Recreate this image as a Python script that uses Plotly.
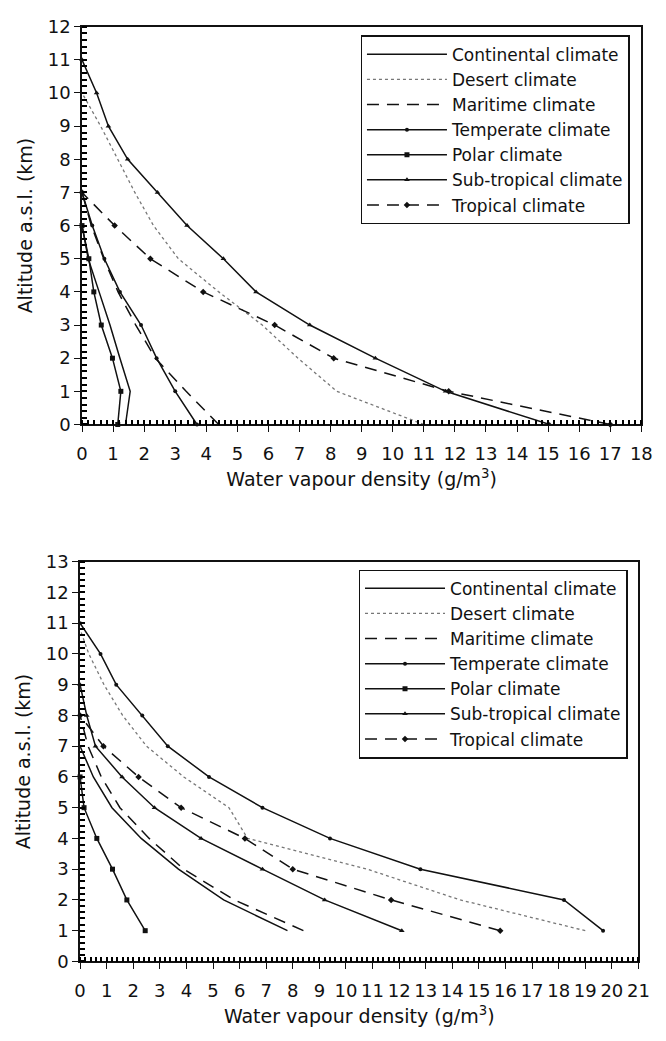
import plotly.graph_objects as go

# ---------------- data: top chart ----------------
top_cont_alt = [0, 1, 2, 3, 4, 5, 6]
top_cont_rho = [1.4, 1.55, 1.22, 0.9, 0.55, 0.2, 0.0]
top_des_alt = [0, 1, 2, 3, 4, 5, 6, 7, 8, 9, 10]
top_des_rho = [11.0, 8.2, 6.95, 5.8, 4.4, 3.1, 2.3, 1.7, 1.15, 0.6, 0.0]
top_mar_alt = [0, 1, 2, 3, 4, 5, 6, 7]
top_mar_rho = [4.4, 3.35, 2.36, 1.73, 1.16, 0.7, 0.3, 0.0]
top_tem_alt = [0, 1, 2, 3, 4, 5, 6, 7]
top_tem_rho = [3.7, 3.0, 2.4, 1.9, 1.22, 0.72, 0.33, 0.0]
top_pol_alt = [0, 1, 2, 3, 4, 5, 6]
top_pol_rho = [1.15, 1.25, 0.98, 0.62, 0.38, 0.22, 0.0]
top_sub_alt = [0, 1, 2, 3, 4, 5, 6, 7, 8, 9, 10, 11]
top_sub_rho = [15.05, 11.7, 9.44, 7.33, 5.6, 4.55, 3.38, 2.43, 1.47, 0.85, 0.47, 0.0]
top_tro_alt = [0, 1, 2, 3, 4, 5, 6, 7]
top_tro_rho = [17.0, 11.8, 8.1, 6.2, 3.9, 2.2, 1.05, 0.0]

# ---------------- data: bottom chart ----------------
bot_cont_alt = [1, 2, 3, 4, 5, 6, 7]
bot_cont_rho = [7.8, 5.4, 3.7, 2.3, 1.2, 0.5, 0.0]
bot_des_alt = [1, 2, 3, 4, 5, 6, 7, 8, 9, 10, 10.8]
bot_des_rho = [19.0, 14.3, 10.8, 6.3, 5.6, 3.9, 2.5, 1.6, 0.9, 0.33, 0.0]
bot_mar_alt = [1, 2, 3, 4, 5, 6, 7, 8]
bot_mar_rho = [8.4, 5.8, 3.9, 2.6, 1.5, 0.8, 0.3, 0.0]
bot_tem_alt = [1, 2, 3, 4, 5, 6, 7, 8, 9, 10, 11]
bot_tem_rho = [19.67, 18.2, 12.8, 9.4, 6.86, 4.85, 3.3, 2.34, 1.36, 0.77, 0.0]
bot_pol_alt = [1, 2, 3, 4, 5, 6]
bot_pol_rho = [2.45, 1.76, 1.22, 0.63, 0.15, 0.0]
bot_sub_alt = [1, 2, 3, 4, 5, 6, 7, 8, 9]
bot_sub_rho = [12.1, 9.2, 6.86, 4.55, 2.8, 1.58, 0.58, 0.25, 0.0]
bot_tro_alt = [1, 2, 3, 4, 5, 6, 7, 8]
bot_tro_rho = [15.8, 11.7, 8.0, 6.2, 3.8, 2.2, 0.88, 0.0]

# axis limits (major tick every 1, minor tick every 0.2)
top_x_max, top_y_max = 18, 12
bot_x_max, bot_y_max = 21, 13

names = ["Continental climate", "Desert climate", "Maritime climate",
         "Temperate climate", "Polar climate", "Sub-tropical climate",
         "Tropical climate"]

top_series = [(top_cont_rho, top_cont_alt), (top_des_rho, top_des_alt),
              (top_mar_rho, top_mar_alt), (top_tem_rho, top_tem_alt),
              (top_pol_rho, top_pol_alt), (top_sub_rho, top_sub_alt),
              (top_tro_rho, top_tro_alt)]
bot_series = [(bot_cont_rho, bot_cont_alt), (bot_des_rho, bot_des_alt),
              (bot_mar_rho, bot_mar_alt), (bot_tem_rho, bot_tem_alt),
              (bot_pol_rho, bot_pol_alt), (bot_sub_rho, bot_sub_alt),
              (bot_tro_rho, bot_tro_alt)]

INK = "#111"
styles = [
    dict(mode="lines", line=dict(color=INK, width=1.5, dash="solid")),
    dict(mode="lines", line=dict(color="#777", width=1.3, dash="dot")),
    dict(mode="lines", line=dict(color=INK, width=1.5, dash="12px,8px")),
    dict(mode="lines+markers", line=dict(color=INK, width=1.5),
         marker=dict(symbol="circle", size=4, color=INK)),
    dict(mode="lines+markers", line=dict(color=INK, width=1.5),
         marker=dict(symbol="square", size=5, color=INK)),
    dict(mode="lines+markers", line=dict(color=INK, width=1.5),
         marker=dict(symbol="triangle-up", size=5, color=INK)),
    dict(mode="lines+markers", line=dict(color=INK, width=1.5, dash="12px,8px"),
         marker=dict(symbol="diamond", size=5, color=INK)),
]

FONT = "DejaVu Sans, Liberation Sans, sans-serif"

fig = go.Figure()
for name, (xs, ys), st in zip(names, top_series, styles):
    fig.add_trace(go.Scatter(x=xs, y=ys, name=name, xaxis="x", yaxis="y",
                             legend="legend", cliponaxis=False, **st))
for name, (xs, ys), st in zip(names, bot_series, styles):
    fig.add_trace(go.Scatter(x=xs, y=ys, name=name, xaxis="x2", yaxis="y2",
                             legend="legend2", cliponaxis=False, **st))

H = 1041.0
W = 666.0
TITLE_FONT = dict(family=FONT, size=19, color=INK)


def axis_common(vmax):
    return dict(showgrid=False, zeroline=False, showline=True, linecolor=INK,
                linewidth=1.5, mirror=True, ticks="outside", ticklen=6,
                tickwidth=1.4, tickcolor=INK, range=[0, vmax], dtick=1,
                layer="above traces",
                tickfont=dict(family=FONT, size=18, color=INK),
                minor=dict(dtick=0.2, ticks="inside", ticklen=5,
                           tickwidth=1.5, tickcolor="black"))


xa = axis_common(top_x_max)
xa.update(domain=[78 / W, 652 / W], anchor="y", ticklabelstandoff=6,
          title=dict(text="Water vapour density (g/m<sup>3</sup>)",
                     font=TITLE_FONT, standoff=10))
ya = axis_common(top_y_max)
ya.update(domain=[(H - 422) / H, (H - 16) / H], anchor="x", ticklabelstandoff=0,
          title=dict(text="Altitude a.s.l. (km)", font=TITLE_FONT, standoff=10))
xa2 = axis_common(bot_x_max)
xa2.update(domain=[76 / W, 649 / W], anchor="y2", ticklabelstandoff=6,
           title=dict(text="Water vapour density (g/m<sup>3</sup>)",
                      font=TITLE_FONT, standoff=10))
ya2 = axis_common(bot_y_max)
ya2.update(domain=[(H - 970) / H, (H - 562) / H], anchor="x2",
           ticklabelstandoff=0,
           title=dict(text="Altitude a.s.l. (km)", font=TITLE_FONT, standoff=10))

leg_common = dict(bgcolor="white", bordercolor=INK, borderwidth=1.3,
                  font=dict(family=FONT, size=17, color=INK),
                  itemwidth=80, xanchor="right", yanchor="top",
                  traceorder="normal", tracegroupgap=0)
leg1 = dict(leg_common, x=640 / W, y=(H - 25) / H)
leg2 = dict(leg_common, x=638 / W, y=(H - 570) / H)

fig.update_layout(
    width=666, height=1041, margin=dict(l=0, r=0, t=0, b=0),
    paper_bgcolor="white", plot_bgcolor="white",
    font=dict(family=FONT, size=18, color=INK),
    xaxis=xa, yaxis=ya, xaxis2=xa2, yaxis2=ya2,
    legend=leg1, legend2=leg2,
    showlegend=True,
)

fig.write_html("out.html")
